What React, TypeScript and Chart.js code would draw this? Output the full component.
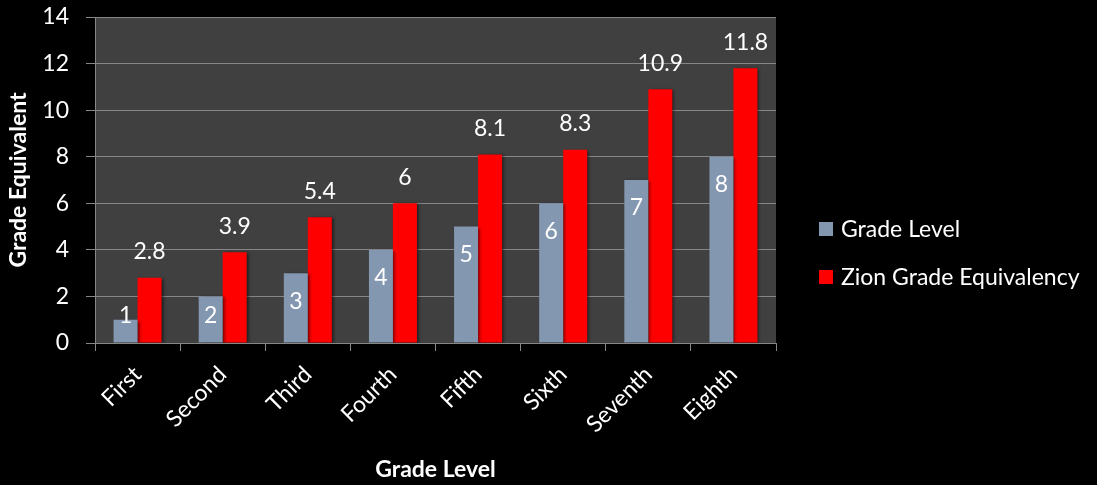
import React, { useEffect, useRef } from "react";
import { Chart, registerables } from "chart.js";

Chart.register(...registerables);

const categories = ["First", "Second", "Third", "Fourth", "Fifth", "Sixth", "Seventh", "Eighth"];
const gradeLevel = [1, 2, 3, 4, 5, 6, 7, 8];
const zionEquivalency = [2.8, 3.9, 5.4, 6, 8.1, 8.3, 10.9, 11.8];
const yTicks = [0, 2, 4, 6, 8, 10, 12, 14];

const FONT = "Lato, 'Open Sans', sans-serif";
const FS = 23;
const BLUE = "#8497B0";
const RED = "#FF0000";
const GRID = "#868686";

export default function App() {
  const ref = useRef<HTMLCanvasElement | null>(null);

  useEffect(() => {
    if (!ref.current) return;

    const bgPlugin = {
      id: "bg",
      beforeDraw(chart: any) {
        const { ctx, chartArea } = chart;
        ctx.save();
        ctx.fillStyle = "#000";
        ctx.fillRect(0, 0, chart.width, chart.height);
        ctx.fillStyle = "#404040";
        ctx.fillRect(chartArea.left, chartArea.top, chartArea.right - chartArea.left, chartArea.bottom - chartArea.top);
        ctx.restore();
      },
    };

    const labelPlugin = {
      id: "labels",
      beforeDatasetsDraw(chart: any) {
        const ctx = chart.ctx;
        ctx.save();
        ctx.shadowColor = "rgba(0,0,0,0.55)";
        ctx.shadowBlur = 3;
        ctx.shadowOffsetX = 2;
        ctx.shadowOffsetY = 1;
      },
      afterDatasetsDraw(chart: any) {
        const ctx = chart.ctx;
        ctx.restore();
        ctx.save();
        ctx.fillStyle = "#fff";
        ctx.font = `${FS}px ${FONT}`;
        ctx.textAlign = "center";
        ctx.textBaseline = "middle";
        const base = chart.scales.y.getPixelForValue(0);
        chart.getDatasetMeta(0).data.forEach((bar: any, i: number) => {
          const y = Math.min(bar.y + 28, base - 27);
          ctx.fillText(String(gradeLevel[i]), bar.x, y);
        });
        chart.getDatasetMeta(1).data.forEach((bar: any, i: number) => {
          ctx.fillText(String(zionEquivalency[i]), bar.x, bar.y - 26);
        });
        ctx.restore();
      },
    };

    const legendPlugin = {
      id: "customLegend",
      afterDraw(chart: any) {
        const ctx = chart.ctx;
        ctx.save();
        ctx.font = `${FS}px ${FONT}`;
        ctx.textBaseline = "middle";
        ctx.textAlign = "left";
        const rows = [229, 277];
        chart.data.datasets.forEach((ds: any, i: number) => {
          const cy = rows[i];
          ctx.fillStyle = ds.backgroundColor;
          ctx.fillRect(819, cy - 7, 14, 14);
          ctx.fillStyle = "#fff";
          ctx.fillText(ds.label, 841, cy + 1);
        });
        ctx.restore();
      },
    };

    const chart = new Chart(ref.current, {
      type: "bar",
      data: {
        labels: categories,
        datasets: [
          { label: "Grade Level", data: gradeLevel, backgroundColor: BLUE, categoryPercentage: 0.564, barPercentage: 1 },
          { label: "Zion Grade Equivalency", data: zionEquivalency, backgroundColor: RED, categoryPercentage: 0.564, barPercentage: 1 },
        ],
      },
      options: {
        responsive: false,
        animation: false,
        layout: { padding: { left: 0, top: 17, right: 321, bottom: 0 } },
        plugins: {
          legend: { display: false },
          tooltip: { enabled: false },
        },
        scales: {
          x: {
            grid: { drawOnChartArea: false, color: GRID, tickLength: 8, offset: true },
            border: { color: GRID },
            ticks: {
              color: "#fff",
              font: { family: FONT, size: FS },
              maxRotation: 45,
              minRotation: 45,
              padding: 10,
            },
            title: {
              display: true,
              text: "Grade Level",
              color: "#fff",
              font: { family: FONT, size: FS, weight: "bold" },
              padding: { top: 0, bottom: 2 },
            },
            afterFit(scale: any) {
              scale.height = 142;
              scale.paddingLeft = 0;
              scale.paddingRight = 0;
            },
          },
          y: {
            min: 0,
            max: 14,
            afterBuildTicks(scale: any) {
              scale.ticks = yTicks.map((v) => ({ value: v }));
            },
            grid: { color: GRID, tickLength: 9 },
            border: { color: GRID },
            ticks: {
              color: "#fff",
              font: { family: FONT, size: FS },
              padding: 17,
            },
            title: {
              display: true,
              text: "Grade Equivalent",
              color: "#fff",
              font: { family: FONT, size: FS, weight: "bold" },
              padding: { top: 5, bottom: 0 },
            },
            afterFit(scale: any) {
              scale.width = 95;
              scale.paddingTop = 0;
              scale.paddingBottom = 0;
            },
          },
        },
      },
      plugins: [bgPlugin, labelPlugin, legendPlugin],
    });

    return () => chart.destroy();
  }, []);

  return (
    <div style={{ position: "fixed", left: 0, top: 0, width: 1097, height: 485, background: "#000" }}>
      <canvas ref={ref} width={1097} height={485} style={{ display: "block" }} />
    </div>
  );
}
